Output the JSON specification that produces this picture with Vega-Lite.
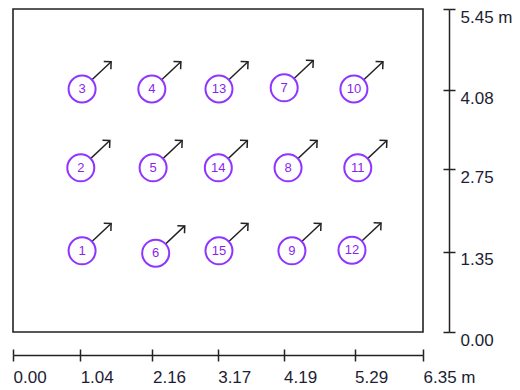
{
  "$schema": "https://vega.github.io/schema/vega-lite/v6.json",
  "autosize": "none",
  "width": 410,
  "height": 323,
  "padding": {"left": 13, "top": 9, "right": 97, "bottom": 58},
  "background": "white",
  "config": {
    "view": {"stroke": "#222", "strokeWidth": 1.6},
    "font": "Liberation Sans"
  },
  "data": {
    "values": [
      {"id": "1", "x": 1.07, "y": 1.37, "xe": 1.52, "ye": 1.83},
      {"id": "2", "x": 1.05, "y": 2.77, "xe": 1.50, "ye": 3.23},
      {"id": "3", "x": 1.07, "y": 4.10, "xe": 1.52, "ye": 4.56},
      {"id": "4", "x": 2.15, "y": 4.10, "xe": 2.60, "ye": 4.56},
      {"id": "5", "x": 2.17, "y": 2.77, "xe": 2.62, "ye": 3.23},
      {"id": "6", "x": 2.21, "y": 1.33, "xe": 2.66, "ye": 1.79},
      {"id": "7", "x": 4.20, "y": 4.12, "xe": 4.65, "ye": 4.58},
      {"id": "8", "x": 4.26, "y": 2.77, "xe": 4.71, "ye": 3.23},
      {"id": "9", "x": 4.32, "y": 1.37, "xe": 4.77, "ye": 1.83},
      {"id": "10", "x": 5.28, "y": 4.10, "xe": 5.73, "ye": 4.56},
      {"id": "11", "x": 5.34, "y": 2.77, "xe": 5.79, "ye": 3.23},
      {"id": "12", "x": 5.25, "y": 1.38, "xe": 5.70, "ye": 1.84},
      {"id": "13", "x": 3.19, "y": 4.10, "xe": 3.64, "ye": 4.56},
      {"id": "14", "x": 3.18, "y": 2.77, "xe": 3.63, "ye": 3.23},
      {"id": "15", "x": 3.19, "y": 1.37, "xe": 3.64, "ye": 1.83}
    ]
  },
  "resolve": {"axis": {"x": "independent", "y": "independent"}},
  "layer": [
    {
      "mark": {"type": "rule", "stroke": "#222", "strokeWidth": 1.5},
      "encoding": {
        "x": {
          "field": "x", "type": "quantitative",
          "scale": {"domain": [0, 6.35], "nice": false, "zero": false},
          "axis": {
            "orient": "bottom", "offset": 23, "title": null, "grid": false,
            "values": [0, 1.04, 2.16, 3.17, 4.19, 5.29, 6.35],
            "format": ".2f",
            "labelExpr": "datum.value > 6.3 ? datum.label + ' m' : datum.label",
            "domainColor": "#222", "domainWidth": 1.5,
            "tickColor": "#222", "tickWidth": 1.5, "tickSize": 6,
            "labelAlign": "left", "labelBaseline": "top", "labelPadding": 8,
            "labelFontSize": 17, "labelColor": "#1d1d33", "labelFont": "Liberation Sans",
            "labelOverlap": false, "labelFlush": false
          }
        },
        "y": {
          "field": "y", "type": "quantitative",
          "scale": {"domain": [0, 5.45], "nice": false, "zero": false},
          "axis": {
            "orient": "right", "offset": 26, "title": null, "grid": false,
            "values": [0, 1.35, 2.75, 4.08, 5.45],
            "format": ".2f",
            "labelExpr": "datum.value > 5.4 ? datum.label + ' m' : datum.label",
            "domainColor": "#222", "domainWidth": 1.5,
            "tickColor": "#222", "tickWidth": 1.5, "tickSize": 6,
            "labelAlign": "left", "labelBaseline": "top", "labelPadding": 5, "labelDy": 1,
            "labelFontSize": 17, "labelColor": "#1d1d33", "labelFont": "Liberation Sans",
            "labelOverlap": false, "labelFlush": false
          }
        },
        "x2": {"field": "xe"},
        "y2": {"field": "ye"}
      }
    },
    {
      "mark": {"type": "point", "shape": "M-1,1L0,0L1,1", "filled": false, "stroke": "#222", "strokeWidth": 1.5, "size": 110, "angle": 47, "opacity": 1},
      "encoding": {
        "x": {
          "field": "xe", "type": "quantitative",
          "axis": {
            "orient": "bottom", "offset": 23, "title": null, "grid": false, "domain": false, "labels": false,
            "values": [0, 1.04, 2.16, 3.17, 4.19, 5.29, 6.35],
            "tickColor": "#222", "tickWidth": 1.5, "tickSize": -6
          }
        },
        "y": {
          "field": "ye", "type": "quantitative",
          "axis": {
            "orient": "right", "offset": 26, "title": null, "grid": false, "domain": false, "labels": false,
            "values": [0, 1.35, 2.75, 4.08, 5.45],
            "tickColor": "#222", "tickWidth": 1.5, "tickSize": -6
          }
        }
      }
    },
    {
      "mark": {"type": "point", "shape": "circle", "filled": false, "fill": "white", "fillOpacity": 1, "stroke": "#8f35ff", "strokeWidth": 2, "size": 729, "opacity": 1},
      "encoding": {
        "x": {"field": "x", "type": "quantitative", "axis": null},
        "y": {"field": "y", "type": "quantitative", "axis": null}
      }
    },
    {
      "mark": {"type": "text", "fontSize": 13, "color": "#8a1ff0", "align": "center", "baseline": "middle", "font": "Liberation Sans"},
      "encoding": {
        "x": {"field": "x", "type": "quantitative", "axis": null},
        "y": {"field": "y", "type": "quantitative", "axis": null},
        "text": {"field": "id"}
      }
    }
  ]
}
